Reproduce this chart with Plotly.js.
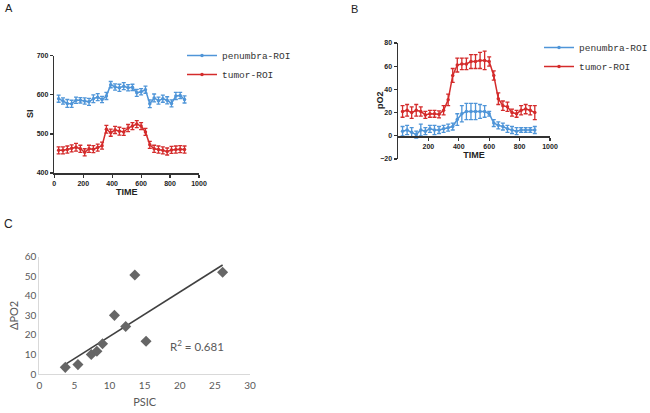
<!DOCTYPE html>
<html><head><meta charset="utf-8">
<script src="https://cdn.plot.ly/plotly-3.0.1.min.js"></script>
<style>html,body{margin:0;padding:0;background:#fff}#chart{width:650px;height:413px}</style>
</head><body><div id="chart"></div>
<script>
// Shared time points (seconds)
const time = [30,60,90,120,150,180,210,240,270,300,330,360,390,420,450,480,510,540,570,600,630,660,690,720,750,780,810,840,870,900];

// Panel A: signal intensity (SI)
const siPenumbra = [590,584,578,577,586,586,584,582,590,594,588,597,626,620,618,622,618,619,605,608,613,577,592,585,590,586,578,597,598,588];
const siPenumbraErr = [9,8,10,9,8,7,8,9,10,9,8,9,8,8,9,9,8,8,9,8,9,10,10,9,9,9,9,9,8,9];
const siTumor = [458,458,460,463,466,462,453,462,461,465,470,512,503,510,507,505,515,520,525,520,505,472,462,460,458,455,459,460,461,460];
const siTumorErr = [9,9,9,9,10,9,9,9,9,9,9,10,9,9,10,9,9,9,9,9,9,9,9,9,9,9,9,9,9,9];

// Panel B: pO2
const po2Penumbra = [4,5,3,1,5,4,6,5,5,6,7,8,14,19,21,21,21,21,21,19,11,9,8,6,5,4,5,5,5,5];
const po2PenumbraErr = [4,4,4,3,5,3,3,4,3,3,3,3,5,7,7,7,7,6,5,2,3,3,3,3,3,3,2,2,2,3];
const po2Tumor = [21,22,20,22,21,18,19,19,18.5,22,31,52,61,62,62,64,64,65,65,64,52,32,26,25,20,19,22,23,22,20];
const po2TumorErr = [5,5,5,5,4,3,3,3,3,4,5,6,6,5,5,6,6,7,8,4,4,5,4,4,3,3,4,4,4,6];

// Panel C: PSIC vs delta pO2
const psic = [3.7,5.5,7.4,8.2,9.0,10.7,12.3,13.6,15.2,26.1];
const dPO2 = [3.4,4.8,10.0,11.6,15.5,30.0,24.3,50.6,16.8,52.0];
const r2Label = "R<sup>2</sup> = 0.681";
const xTicksA = [0,200,400,600,800,1000];
const xTicksB = [200,400,600,800,1000];

const blue = '#4f95d8', red = '#d42b2b';

// least-squares trend line for panel C
const n = psic.length;
const mx = psic.reduce((a,b)=>a+b,0)/n, my = dPO2.reduce((a,b)=>a+b,0)/n;
let sxy=0, sxx=0; for(let i=0;i<n;i++){sxy+=(psic[i]-mx)*(dPO2[i]-my); sxx+=(psic[i]-mx)**2;}
const slope = sxy/sxx, icpt = my - slope*mx;
const xmin = Math.min(...psic), xmax = Math.max(...psic);
const trendX = [xmin, xmax], trendY = [icpt+slope*xmin, icpt+slope*xmax];

function series(x,y,err,color,name,xa,ya,leg,show){
  return {x:x,y:y,name:name,type:'scatter',mode:'lines+markers',xaxis:xa,yaxis:ya,legend:leg,showlegend:show,
    line:{color:color,width:1.5},marker:{color:color,size:3.5,symbol:'circle'},
    error_y:{type:'data',array:err,visible:true,color:color,thickness:1.3,width:2}};
}

const data = [
  series(time,siPenumbra,siPenumbraErr,blue,'penumbra-ROI','x','y','legend',true),
  series(time,siTumor,siTumorErr,red,'tumor-ROI','x','y','legend',true),
  series(time,po2Penumbra,po2PenumbraErr,blue,'penumbra-ROI','x2','y2','legend2',true),
  series(time,po2Tumor,po2TumorErr,red,'tumor-ROI','x2','y2','legend2',true),
  {x:trendX,y:trendY,type:'scatter',mode:'lines',xaxis:'x3',yaxis:'y3',showlegend:false,line:{color:'#404040',width:1.6}},
  {x:psic,y:dPO2,type:'scatter',mode:'markers',xaxis:'x3',yaxis:'y3',showlegend:false,marker:{symbol:'diamond',size:8.5,color:'#666666'}}
];

const W=650,H=413;
const px = v=>v/W, py = v=>1-v/H;
const tickFont = {family:'Liberation Sans, Arial, sans-serif',size:7,color:'#222',weight:'bold'};
const titleFont = {family:'Liberation Sans, Arial, sans-serif',size:9,color:'#222',weight:'bold'};
const blackAxis = {showgrid:false,zeroline:false,showline:true,linecolor:'#333',linewidth:1.5,ticks:'outside',ticklen:3,tickwidth:1.2,tickcolor:'#333',tickfont:tickFont};
const cFontFam = 'Lato, Open Sans, sans-serif';
const cFont = {family:cFontFam,size:10,color:'#595959'};
const grayAxis = {showgrid:false,zeroline:false,showline:true,linecolor:'#d9d9d9',linewidth:1,ticks:'',tickfont:cFont};
const legFont = {family:'Liberation Mono, monospace',size:9.5,color:'#333'};

function label(text,x,y,font,angle){
  return {text:text,x:px(x),y:py(y),xref:'paper',yref:'paper',xanchor:'center',yanchor:'middle',showarrow:false,textangle:angle||0,font:font};
}

const layout = {
  width:W,height:H,margin:{l:0,r:0,t:0,b:0,autoexpand:false},paper_bgcolor:'#fff',plot_bgcolor:'rgba(0,0,0,0)',
  xaxis:Object.assign({},blackAxis,{domain:[px(54.3),px(199)],range:[0,1000],tickvals:xTicksA,anchor:'y',
    title:{text:'TIME',font:titleFont,standoff:3}}),
  yaxis:Object.assign({},blackAxis,{domain:[py(173),py(55.7)],range:[400,700],tickvals:[400,500,600,700],anchor:'x'}),
  xaxis2:Object.assign({},blackAxis,{domain:[px(398),px(550)],range:[0,1000],tickvals:xTicksB,anchor:'free',position:py(136),
    title:{text:'TIME',font:titleFont,standoff:2}}),
  yaxis2:Object.assign({},blackAxis,{domain:[py(159),py(43)],range:[-20,80],tickvals:[-20,0,20,40,60,80],anchor:'x2'}),
  xaxis3:Object.assign({},grayAxis,{domain:[px(39.3),px(250)],range:[0,30],dtick:5,anchor:'y3',ticklabelstandoff:2,
    title:{text:'PSIC',font:{family:cFontFam,size:11,color:'#595959'},standoff:8}}),
  yaxis3:Object.assign({},grayAxis,{domain:[py(374),py(256.7)],range:[0,60],dtick:10,anchor:'x3'}),
  legend:{x:px(182),y:py(41),xanchor:'left',yanchor:'top',font:legFont,bgcolor:'rgba(0,0,0,0)',tracegroupgap:0},
  legend2:{x:px(539),y:py(33),xanchor:'left',yanchor:'top',font:legFont,bgcolor:'rgba(0,0,0,0)',tracegroupgap:0},
  annotations:[
    label('A',9,8,{family:'Liberation Sans, Arial',size:11,color:'#222'}),
    label('B',354,9,{family:'Liberation Sans, Arial',size:11,color:'#222'}),
    label('C',8,224,{family:'Liberation Sans, Arial',size:12,color:'#222'}),
    label('SI',30,114,titleFont,-90),
    label('pO2',380,100,titleFont,-90),
    label('ΔPO2',13,316,{family:cFontFam,size:11,color:'#595959'},-90),
    label(r2Label,197,345,{family:cFontFam,size:11.5,color:'#595959'})
  ]
};

Plotly.newPlot('chart',data,layout,{displayModeBar:false,staticPlot:true});
</script></body></html>
